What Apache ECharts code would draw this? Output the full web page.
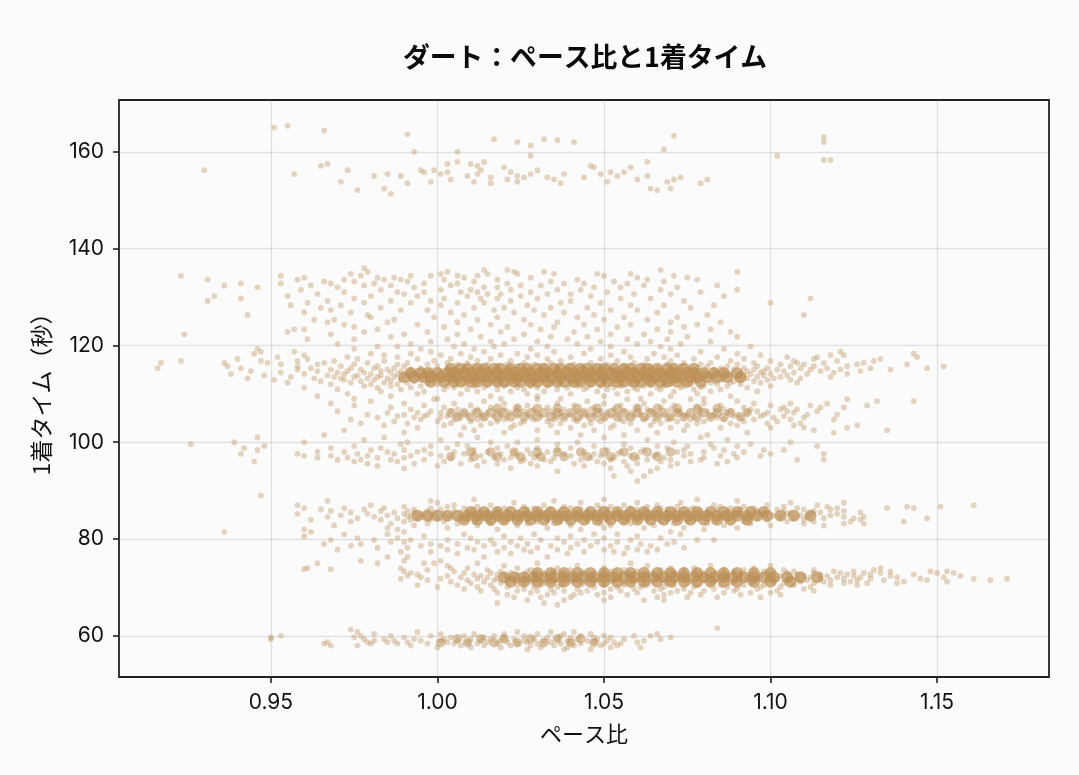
<!DOCTYPE html>
<html><head><meta charset="utf-8"><style>html,body{margin:0;background:#fbfbfb}#c{width:1079px;height:775px}</style>
<script src="https://cdn.jsdelivr.net/npm/echarts@6/dist/echarts.min.js"></script></head><body><div id="c"></div>
<script>
const xTicks=[0.95,1.00,1.05,1.10,1.15];
const yTicks=[60,80,100,120,140,160];
// each row: first number = 1着タイム, the rest = ペース比 values
const cluster155=[[165.4,.955],[165,.951],[164.4,.966],[163.6,.991],[163.3,1.071],[163,1.116],[162.6,1.017,1.032],[162.4,1.036],[162,1.024,1.041,1.116],[161.3,1.028],[160.5,1.068],[160,.993,1.006],[159.2,1.028,1.102],[158.3,1.116,1.118],[157.9,1.006,1.014,1.063],[157.5,.967,1.003,1.01],[157.1,.965,1.012,1.046],[156.8,1.02,1.047,1.058],[156.2,.93,.973,.995,.999,1.013,1.03],[155.8,.996,1.003,1.022,1.052,1.056],[155.4,.957,.985,1.001,1.012,1.028,1.038,1.049],[155,.981,.989,1.009,1.024,1.054,1.063],[154.7,1.016,1.026,1.033,1.044,1.073],[154.3,1.004,1.021,1.035,1.06,1.071,1.081],[153.8,.971,.998,1.011,1.024,1.051,1.069],[153.5,.991,1.016,1.037,1.079],[152.4,.984,1.064,1.07],[152.1,.976,1.066],[151.3,.986]];
const cloud125=[[136,.978],[135.6,1.014,1.021,1.067],[135.2,.979,1.003,1.023,1.032,1.09],[134.8,.974,1.001,1.015,1.024,1.035,1.048,1.058],[134.4,.923,.953,.977,.992,.998,1.006,1.012,1.05,1.071],[134,.96,.982,.987,1.008,1.028,1.06,1.075],[133.6,.931,.958,.972,.984,.989,1.002,1.018,1.042,1.063,1.078],[133.2,.966,.975,.991,1.011,1.034,1.053,1.068],[132.8,.941,.953,.968,.981,.996,1.006,1.021,1.038,1.044,1.057],[132.4,.936,.962,.978,.986,1.004,1.025,1.031,1.062,1.084],[132,.946,.97,.993,1.014,1.018,1.047,1.055,1.072],[131.5,.959,.983,1.001,1.01,1.022,1.036,1.043,1.067,1.09],[131,.972,.988,.996,1.007,1.012,1.028,1.051,1.079],[130.6,.964,.99,1.015,1.019,1.033,1.04,1.059,1.07],[130.2,.933,.955,.98,.994,1.009,1.025,1.046,1.086],[129.7,.941,.975,1.002,1.013,1.018,1.03,1.055,1.064,1.112],[129.2,.931,.967,.986,.998,1.022,1.04,1.074],[128.8,.961,.978,.992,1.006,1.014,1.037,1.049,1.1],[128.3,.956,.971,1.001,1.027,1.058,1.068,1.083],[127.8,.965,.983,1.011,1.02,1.034,1.045,1.076],[127.3,.968,.989,.997,1.017,1.029,1.052,1.06],[126.8,.96,.974,1.004,1.023,1.038,1.066],[126.3,.943,.979,1.008,1.032,1.047,1.081,1.11],[125.8,.98,.999,1.018,1.042,1.056,1.072],[125.3,.963,.969,.987,1.012,1.026,1.05,1.063],[124.8,.967,.985,1.006,1.036,1.07,1.085],[124.3,.972,.994,1.016,1.028,1.044,1.058,1.078],[123.8,.975,1.002,1.021,1.035,1.054,1.074],[123.3,.957,.96,.982,1.01,1.031,1.048,1.066,1.082],[122.8,.955,.978,.997,1.019,1.041,1.07,1.088],[122.3,.924,.968,.99,1.006,1.026,1.052,1.062],[121.8,.986,1.013,1.034,1.045,1.075,1.09],[121.3,.961,.975,1.003,1.023,1.039,1.057,1.069],[120.8,.998,1.016,1.03,1.049,1.064,1.082],[120.3,.97,.992,1.008,1.02,1.042,1.06,1.073],[119.8,.982,.988,1.005,1.017,1.033,1.052,1.067,1.094],[119.3,.946,.975,.995,1.011,1.028,1.046,1.07,1.086]];
const band114=[[118.7,.947,.957,.998,1.014,1.035,1.056,1.079,1.121],[118.3,.945,.98,.992,1.007,1.024,1.044,1.065,1.09,1.143],[118,.96,.984,1.001,1.019,1.03,1.052,1.072,1.097,1.118,1.122],[117.6,.952,.973,.988,1.01,1.027,1.04,1.058,1.068,1.084,1.105,1.114,1.144],[117.2,.94,.961,.976,.994,1.004,1.016,1.033,1.049,1.063,1.077,1.092,1.113,1.133],[116.8,.923,.947,.958,.969,.984,.999,1.012,1.022,1.037,1.054,1.07,1.088,1.1,1.107,1.12,1.131],[116.4,.917,.936,.949,.966,.979,.991,1.003,1.009,1.026,1.034,1.046,1.059,1.074,1.082,1.095,1.108,1.116,1.128],[116.1,.953,.964,.975,.988,.997,1.006,1.015,1.021,1.029,1.041,1.051,1.062,1.069,1.079,1.09,1.103,1.11,1.126,1.141],[115.7,.937,.958,.971,.982,.99,1.0,1.011,1.018,1.024,1.032,1.039,1.047,1.056,1.064,1.073,1.081,1.087,1.096,1.106,1.113,1.123,1.152],[115.3,.916,.941,.962,.974,.981,.987,.995,1.003,1.008,1.014,1.022,1.028,1.036,1.043,1.05,1.057,1.066,1.071,1.078,1.085,1.092,1.099,1.109,1.117,1.13,1.147],[115,.958,.968,.977,.985,.992,.998,1.005,1.012,1.017,1.025,1.031,1.038,1.044,1.052,1.059,1.063,1.07,1.076,1.083,1.089,1.095,1.102,1.112,1.121,1.136],[114.7,.944,.964,.973,.983,.989,.994,1.001,1.007,1.013,1.019,1.026,1.033,1.04,1.046,1.053,1.06,1.067,1.074,1.08,1.086,1.093,1.098,1.104,1.115,1.127],[114.4,.953,.97,.978,.986,.991,.997,1.003,1.01,1.015,1.021,1.027,1.034,1.042,1.048,1.055,1.061,1.068,1.072,1.079,1.084,1.091,1.097,1.107,1.119],[114.1,.938,.96,.972,.98,.988,.993,.999,1.004,1.009,1.016,1.023,1.029,1.035,1.041,1.047,1.054,1.058,1.065,1.07,1.077,1.083,1.088,1.094,1.1,1.111,1.123],[113.8,.948,.967,.976,.983,.99,.996,1.002,1.006,1.012,1.018,1.024,1.03,1.037,1.043,1.049,1.056,1.062,1.069,1.075,1.081,1.087,1.092,1.098,1.105],[113.5,.956,.969,.975,.982,.987,.994,1.0,1.005,1.011,1.016,1.022,1.028,1.033,1.039,1.045,1.051,1.057,1.064,1.071,1.076,1.082,1.09,1.096,1.103,1.118],[113.2,.943,.963,.971,.979,.985,.992,.998,1.003,1.008,1.014,1.02,1.026,1.032,1.038,1.044,1.05,1.055,1.061,1.067,1.073,1.08,1.086,1.093,1.101,1.109],[112.9,.951,.972,.981,.989,.995,1.001,1.007,1.013,1.019,1.025,1.031,1.036,1.042,1.048,1.053,1.059,1.066,1.072,1.078,1.085,1.091,1.099,1.106],[112.6,.965,.977,.986,.993,.999,1.004,1.01,1.017,1.023,1.03,1.035,1.041,1.047,1.054,1.06,1.065,1.071,1.077,1.083,1.089,1.095],[112.3,.955,.974,.984,.991,.997,1.006,1.012,1.018,1.024,1.029,1.037,1.043,1.05,1.056,1.063,1.069,1.075,1.082,1.088,1.097,1.108],[112,.968,.98,.988,1.0,1.008,1.015,1.021,1.027,1.034,1.04,1.046,1.052,1.058,1.064,1.07,1.076,1.084,1.091],[111.6,.978,.986,.995,1.003,1.011,1.02,1.028,1.033,1.042,1.049,1.055,1.062,1.068,1.074,1.08,1.087,1.1],[111.3,.96,.982,.992,1.005,1.014,1.024,1.03,1.039,1.045,1.053,1.059,1.066,1.073,1.079,1.093],[110.9,.97,.989,1.002,1.009,1.018,1.026,1.036,1.044,1.051,1.06,1.067,1.077,1.085],[110.5,.983,.996,1.012,1.022,1.032,1.048,1.057,1.071,1.082,1.096],[110,.973,.994,1.007,1.027,1.04,1.054,1.064,1.078],[109.5,.964,.986,1.016,1.03,1.05,1.07,1.088],[109,.975,1.0,1.019,1.037,1.061,1.08]];
const band106=[[108.9,.999,1.03,1.057,1.076,1.123],[108.5,.98,1.014,1.045,1.068,1.09,1.132,1.143],[108,.968,.99,1.005,1.02,1.036,1.05,1.062,1.08,1.095,1.106,1.117],[107.6,.975,.996,1.01,1.027,1.041,1.055,1.071,1.085,1.1,1.112,1.129],[107.2,.986,1.002,1.016,1.024,1.033,1.047,1.06,1.067,1.078,1.092,1.104,1.115,1.122],[106.8,.992,1.006,1.012,1.02,1.029,1.038,1.046,1.053,1.063,1.07,1.079,1.086,1.094,1.103,1.108],[106.4,.97,.998,1.004,1.011,1.018,1.026,1.034,1.042,1.049,1.056,1.064,1.072,1.081,1.088,1.096,1.105,1.114],[106.1,.985,.994,1.001,1.008,1.015,1.022,1.03,1.037,1.044,1.051,1.058,1.065,1.073,1.079,1.087,1.093,1.099,1.107],[105.7,.979,.99,.997,1.006,1.013,1.019,1.027,1.035,1.04,1.047,1.054,1.061,1.068,1.075,1.083,1.09,1.098,1.111,1.12],[105.4,.988,.996,1.003,1.009,1.017,1.024,1.031,1.038,1.045,1.052,1.059,1.066,1.074,1.082,1.089,1.097,1.104],[105.1,.982,.993,1.001,1.007,1.014,1.021,1.028,1.036,1.043,1.05,1.057,1.063,1.07,1.077,1.084,1.091,1.101,1.11],[104.7,.974,.995,1.005,1.012,1.02,1.029,1.035,1.041,1.048,1.055,1.062,1.069,1.076,1.086,1.095,1.106,1.119],[104.3,.987,1.0,1.01,1.018,1.026,1.033,1.042,1.049,1.056,1.065,1.072,1.08,1.092,1.102],[103.9,.977,.991,1.004,1.016,1.025,1.037,1.046,1.058,1.067,1.078,1.088,1.099,1.109],[103.5,.984,1.002,1.013,1.023,1.034,1.044,1.053,1.064,1.075,1.09,1.107,1.126],[103,.994,1.008,1.022,1.04,1.052,1.07,1.085,1.1,1.11,1.123],[102.5,.972,1.011,1.03,1.047,1.06,1.074,1.113,1.135],[102,.99,1.02,1.036,1.066,1.093,1.119],[101.5,.966,1.007,1.043,1.056,1.081]];
const band97=[[101,.946,.984,1.012,1.05,1.079],[100.5,.978,1.001,1.03,1.063,1.087],[100,.939,.96,.991,1.016,1.024,1.042,1.071,1.106],[99.6,.926,.989,1.006,1.036,1.056,1.082,1.094],[99.2,.948,.975,.998,1.009,1.021,1.047,1.066,1.075,1.09,1.114],[98.8,.942,.968,.983,1.003,1.018,1.03,1.04,1.058,1.069,1.083],[98.4,.946,.98,.99,.996,1.011,1.027,1.036,1.051,1.062,1.074,1.086,1.098,1.104],[98,.964,.972,.985,.994,1.005,1.015,1.023,1.033,1.044,1.055,1.061,1.072,1.08,1.092],[97.6,.941,.958,.976,.987,.998,1.008,1.019,1.028,1.038,1.047,1.054,1.066,1.076,1.089,1.1,1.116],[97.2,.96,.968,.979,.992,1.001,1.013,1.024,1.03,1.04,1.049,1.058,1.065,1.074,1.085,1.097],[96.8,.964,.973,.982,.99,1.004,1.017,1.022,1.029,1.035,1.046,1.053,1.06,1.068,1.08,1.09],[96.4,.97,.977,.986,.996,1.01,1.02,1.026,1.032,1.043,1.052,1.063,1.07,1.079,1.108,1.116],[96,.945,.975,.988,1.002,1.014,1.025,1.034,1.048,1.056,1.067,1.076,1.087],[95.6,.979,.993,1.007,1.018,1.028,1.041,1.05,1.06,1.072,1.084],[95.1,.982,1.0,1.012,1.03,1.044,1.057,1.07],[94.6,.99,1.022,1.052,1.066],[94,1.036,1.058,1.064],[93,1.053,1.062],[92,1.06]];
const band85=[[89,.947],[88.2,1.011,1.05,1.078],[87.9,.967,.998,1.035,1.09],[87.5,1.0,1.023,1.043,1.06,1.073,1.106,1.122],[87,.958,.98,1.005,1.016,1.032,1.048,1.056,1.066,1.083,1.099,1.114,1.161],[86.7,.99,1.003,1.012,1.026,1.038,1.052,1.063,1.072,1.085,1.092,1.104,1.117,1.141,1.151],[86.4,.96,.972,.984,.998,1.008,1.02,1.029,1.04,1.049,1.058,1.067,1.077,1.088,1.095,1.108,1.12,1.135,1.143],[86.1,.965,.978,.993,1.001,1.011,1.018,1.027,1.034,1.043,1.051,1.06,1.069,1.076,1.084,1.091,1.102,1.11,1.118],[85.8,.968,.983,.991,.997,1.005,1.013,1.021,1.03,1.037,1.045,1.054,1.062,1.071,1.079,1.087,1.096,1.104,1.113,1.122],[85.5,.974,.987,.993,.999,1.007,1.015,1.024,1.032,1.041,1.047,1.056,1.064,1.073,1.081,1.089,1.098,1.106,1.115,1.127],[85.2,.958,.979,.99,.995,1.002,1.01,1.017,1.026,1.035,1.042,1.05,1.059,1.066,1.074,1.082,1.09,1.097,1.105,1.112,1.12],[84.9,.971,.985,.992,.998,1.004,1.012,1.019,1.028,1.036,1.044,1.053,1.061,1.068,1.076,1.085,1.093,1.101,1.109,1.118],[84.6,.967,.981,.991,.996,1.003,1.009,1.016,1.023,1.031,1.039,1.046,1.055,1.063,1.07,1.078,1.086,1.094,1.103,1.111,1.122,1.128],[84.3,.976,.988,.994,1.0,1.006,1.014,1.022,1.029,1.038,1.048,1.057,1.065,1.072,1.08,1.088,1.096,1.107,1.116,1.125,1.147],[84,.962,.983,.992,.998,1.008,1.018,1.025,1.033,1.042,1.051,1.06,1.069,1.077,1.087,1.099,1.11,1.127],[83.6,.974,.99,1.002,1.011,1.02,1.03,1.037,1.045,1.056,1.067,1.075,1.083,1.092,1.105,1.113,1.124,1.14],[83.2,.986,.997,1.006,1.016,1.027,1.035,1.049,1.058,1.071,1.081,1.094,1.11,1.122,1.128],[82.8,.969,.993,1.012,1.024,1.04,1.052,1.065,1.086,1.1,1.116],[82.3,.985,1.003,1.033,1.05,1.062,1.074,1.09],[82,.96,.988,1.018,1.043,1.08],[81.5,.936,.962,.99,1.07]];
const band78=[[81,.972,.985,1.008,1.029,1.047,1.054,1.073],[80.6,.96,.996,1.02,1.04,1.06],[80.2,.976,.988,1.01,1.025,1.036,1.05,1.067],[79.8,.968,.981,.992,1.003,1.016,1.031,1.044,1.058,1.078,1.083],[79.4,.986,.99,1.012,1.022,1.038,1.048,1.054,1.071],[79,.966,.977,.998,1.006,1.017,1.027,1.042,1.061,1.069],[78.6,.974,.995,1.001,1.014,1.024,1.034,1.046,1.052,1.064],[78.2,.982,.991,1.009,1.02,1.03,1.04,1.057,1.074],[77.8,.97,1.003,1.011,1.026,1.036,1.05,1.06,1.066],[77.4,.989,.998,1.018,1.028,1.044,1.053,1.063],[77,1.006,1.022,1.039,1.056],[76.3,.985,.991,1.014,1.033],[75.5,.977,.99,1.001],[75,.964,.982,.996],[74,.961,.989,1.004],[73.8,.96,.968]];
const band72=[[75,.999,1.012,1.03,1.058],[74.5,1.003,1.02,1.042,1.063,1.082,1.1],[74,1.009,1.024,1.036,1.05,1.07,1.077,1.095,1.133],[73.6,.997,1.015,1.028,1.04,1.056,1.067,1.074,1.086,1.092,1.104,1.113,1.131],[73.3,.99,1.005,1.019,1.027,1.035,1.044,1.052,1.06,1.069,1.078,1.089,1.098,1.107,1.119,1.125,1.136,1.148,1.153],[73,.992,1.008,1.016,1.022,1.03,1.037,1.043,1.05,1.057,1.063,1.071,1.077,1.084,1.091,1.099,1.105,1.113,1.121,1.128,1.133,1.15,1.155],[72.7,.994,1.011,1.018,1.024,1.029,1.034,1.04,1.046,1.052,1.058,1.065,1.072,1.08,1.087,1.094,1.1,1.108,1.115,1.123,1.13,1.143],[72.4,.991,1.003,1.013,1.02,1.026,1.032,1.038,1.044,1.049,1.055,1.061,1.067,1.073,1.079,1.085,1.091,1.097,1.103,1.11,1.117,1.125,1.136,1.157],[72.1,.995,1.007,1.015,1.021,1.027,1.033,1.039,1.045,1.051,1.057,1.063,1.069,1.075,1.081,1.087,1.093,1.1,1.106,1.112,1.12,1.127,1.138,1.152],[71.8,.989,1.001,1.012,1.018,1.023,1.029,1.035,1.041,1.047,1.053,1.059,1.066,1.072,1.078,1.084,1.09,1.096,1.102,1.108,1.115,1.122,1.13,1.145,1.161,1.171],[71.5,.997,1.009,1.017,1.024,1.03,1.036,1.042,1.048,1.054,1.06,1.068,1.074,1.08,1.086,1.093,1.099,1.105,1.111,1.118,1.126,1.134,1.147,1.166],[71.2,1.004,1.014,1.021,1.028,1.034,1.04,1.046,1.052,1.058,1.064,1.07,1.076,1.083,1.089,1.095,1.101,1.109,1.116,1.124,1.14,1.153],[70.9,1.01,1.019,1.026,1.032,1.038,1.044,1.05,1.056,1.062,1.069,1.075,1.082,1.088,1.094,1.104,1.113,1.122,1.129,1.138],[70.5,.994,1.006,1.016,1.024,1.031,1.037,1.043,1.05,1.056,1.063,1.071,1.078,1.085,1.092,1.098,1.107,1.118,1.126],[70.1,1.0,1.012,1.021,1.029,1.036,1.047,1.054,1.061,1.068,1.077,1.087,1.097,1.103,1.112],[69.7,1.008,1.017,1.026,1.034,1.042,1.052,1.059,1.067,1.074,1.083,1.09,1.096,1.11],[69.3,1.013,1.024,1.03,1.038,1.045,1.055,1.065,1.072,1.08,1.089,1.102,1.113],[68.9,1.018,1.028,1.035,1.043,1.05,1.06,1.07,1.076,1.086,1.094,1.1],[68.5,1.021,1.033,1.041,1.048,1.057,1.068,1.079,1.091,1.103],[68,1.023,1.031,1.04,1.052,1.066,1.075,1.084,1.097],[67.4,1.027,1.038,1.05,1.062,1.068],[66.8,1.018,1.032],[66.4,1.036]];
const band59=[[61.6,1.084],[61.3,.974],[60.8,.976,.994,1.024,1.034,1.041],[60.4,.981,1.001,1.011,1.02,1.03,1.038,1.046,1.066],[60,.953,.977,.986,.998,1.008,1.017,1.026,1.037,1.043,1.05,1.059,1.064],[59.7,.95,.975,.99,1.004,1.014,1.02,1.033,1.04,1.047,1.052,1.07],[59.3,.95,.978,.984,.993,1.002,1.01,1.016,1.023,1.029,1.036,1.042,1.048,1.056,1.067],[59,.981,.987,.995,1.001,1.006,1.013,1.019,1.026,1.032,1.039,1.045,1.051,1.062],[58.7,.967,.979,.985,.991,1.003,1.009,1.015,1.021,1.027,1.034,1.04,1.047,1.053,1.06],[58.4,.966,.98,.988,.997,1.005,1.012,1.018,1.024,1.03,1.037,1.043,1.05,1.055],[58,.968,.976,.992,1.007,1.014,1.022,1.028,1.035,1.041,1.049,1.054],[57.6,1.0,1.01,1.019,1.031,1.039,1.052,1.061],[57.2,1.027,1.038,1.046]];
// the solid centres of the crowded bands
const core114=[[115.2,1.004,1.007,1.009,1.012,1.014,1.017,1.019,1.022,1.025,1.027,1.03,1.032,1.035,1.037,1.04,1.043,1.045,1.048,1.05,1.053,1.056,1.058,1.061,1.063,1.066,1.069,1.071,1.074,1.077],[114.3,.992,.995,.997,1.0,1.003,1.005,1.008,1.01,1.013,1.015,1.018,1.021,1.023,1.026,1.028,1.031,1.033,1.036,1.039,1.041,1.044,1.046,1.049,1.052,1.054,1.057,1.059,1.062,1.064,1.067,1.07,1.072,1.075,1.077,1.08,1.083,1.086,1.09],[113.4,.99,.993,.996,.998,1.001,1.004,1.006,1.009,1.011,1.014,1.016,1.019,1.022,1.024,1.027,1.029,1.032,1.034,1.037,1.04,1.042,1.045,1.047,1.05,1.053,1.055,1.058,1.06,1.063,1.065,1.068,1.071,1.073,1.076,1.078,1.081,1.084,1.087,1.091],[112.5,.998,1.002,1.005,1.007,1.01,1.012,1.015,1.018,1.02,1.023,1.025,1.028,1.03,1.033,1.036,1.038,1.041,1.043,1.046,1.049,1.051,1.054,1.056,1.059,1.061,1.064,1.067,1.069,1.072,1.075,1.079]];
const core106=[[107,1.018,1.024,1.03,1.036,1.042,1.048,1.054,1.06,1.066,1.072,1.078,1.084],[106.1,1.004,1.008,1.012,1.016,1.02,1.024,1.028,1.032,1.036,1.04,1.044,1.048,1.052,1.056,1.06,1.064,1.068,1.072,1.076,1.08,1.084,1.088,1.093],[105.2,1.006,1.01,1.014,1.018,1.022,1.026,1.03,1.034,1.038,1.042,1.046,1.05,1.054,1.058,1.062,1.066,1.07,1.074,1.078,1.082,1.086,1.091]];
const core97=[[98,1.01,1.016,1.023,1.03,1.036,1.043,1.05,1.056,1.063,1.07],[97,1.004,1.011,1.018,1.025,1.031,1.038,1.045,1.052,1.059,1.066]];
const core85=[[85.6,1.01,1.014,1.018,1.022,1.026,1.03,1.034,1.038,1.042,1.046,1.05,1.054,1.058,1.062,1.066,1.07,1.074,1.078,1.082,1.086,1.09,1.094,1.098],[84.8,.994,.997,1.0,1.003,1.006,1.009,1.012,1.015,1.018,1.021,1.024,1.027,1.03,1.033,1.036,1.039,1.042,1.045,1.048,1.051,1.054,1.057,1.06,1.063,1.066,1.069,1.072,1.075,1.078,1.081,1.084,1.087,1.09,1.093,1.096,1.099,1.103,1.107,1.112],[84,1.008,1.012,1.016,1.02,1.024,1.028,1.032,1.036,1.04,1.044,1.048,1.052,1.056,1.06,1.064,1.068,1.072,1.076,1.08,1.084,1.088,1.093]];
const core72=[[73,1.03,1.034,1.038,1.042,1.046,1.05,1.054,1.058,1.062,1.066,1.07,1.074,1.078,1.082,1.086,1.09,1.095,1.1],[72.1,1.02,1.023,1.026,1.029,1.032,1.035,1.038,1.041,1.044,1.047,1.05,1.053,1.056,1.059,1.062,1.065,1.068,1.071,1.074,1.077,1.08,1.083,1.086,1.089,1.092,1.095,1.098,1.101,1.105,1.109,1.114],[71.2,1.022,1.026,1.03,1.034,1.038,1.042,1.046,1.05,1.054,1.058,1.062,1.066,1.07,1.074,1.078,1.082,1.086,1.09,1.095,1.1,1.106]];
const core59=[[59.4,1.006,1.013,1.02,1.028,1.036,1.043],[58.6,1.001,1.009,1.017,1.024,1.032,1.04,1.047]];
function flatten(list){const out=[];for(const g of list){for(const r of g){for(let i=1;i<r.length;i++)out.push([r[i],r[0]]);}}return out;}
const pts=flatten([cluster155,cloud125,band114,band106,band97,band85,band78,band72,band59]);
const heavyCore=flatten([core114,core85,core72]);
const lightCore=flatten([core106,core97,core59]);
const font='Inter,"Noto Sans CJK JP"';
const tfont='"Noto Sans CJK JP"';
const ch=echarts.init(document.getElementById('c'),null,{renderer:'canvas'});
ch.setOption({animation:false,backgroundColor:'#fbfbfb',
title:{text:'ダート：ペース比と1着タイム',left:580,top:38,textAlign:'center',textStyle:{fontFamily:tfont,fontWeight:'bold',fontSize:26.8,color:'#0a0a0a'}},
grid:{left:119,top:100,width:930,height:577,show:true,borderColor:'#222',borderWidth:1.8,backgroundColor:'#fbfbfb'},
xAxis:{type:'value',min:0.9044,max:1.1836,minInterval:0.05,maxInterval:0.05,name:'ペース比',nameLocation:'middle',nameGap:46,nameTextStyle:{fontFamily:tfont,fontSize:22,color:'#111'},
axisLine:{show:false},axisTick:{customValues:xTicks,length:6,lineStyle:{color:'#222',width:1.6}},axisLabel:{customValues:xTicks,formatter:v=>v.toFixed(2),fontFamily:font,fontWeight:400,fontSize:21,color:'#111',margin:15},
splitLine:{show:true,lineStyle:{color:'rgba(120,120,120,0.2)',width:1.3}}},
yAxis:{type:'value',min:51.5,max:170.7,minInterval:20,maxInterval:20,name:'1着タイム（秒）',nameLocation:'middle',nameGap:66,nameTextStyle:{fontFamily:tfont,fontSize:23,color:'#111'},
axisLine:{show:false},axisTick:{customValues:yTicks,length:6,lineStyle:{color:'#222',width:1.6}},axisLabel:{customValues:yTicks,fontFamily:font,fontWeight:400,fontSize:21,color:'#111',margin:15},
splitLine:{show:true,lineStyle:{color:'rgba(120,120,120,0.2)',width:1.3}}},
series:[
{type:'scatter',data:heavyCore,symbolSize:12,itemStyle:{color:'#BC9058',opacity:0.72,borderWidth:0}},
{type:'scatter',data:lightCore,symbolSize:9.5,itemStyle:{color:'#BC9058',opacity:0.5,borderWidth:0}},
{type:'scatter',data:pts,symbolSize:5.8,itemStyle:{color:'#BC9058',opacity:0.37,borderWidth:0}}]});
</script></body></html>
